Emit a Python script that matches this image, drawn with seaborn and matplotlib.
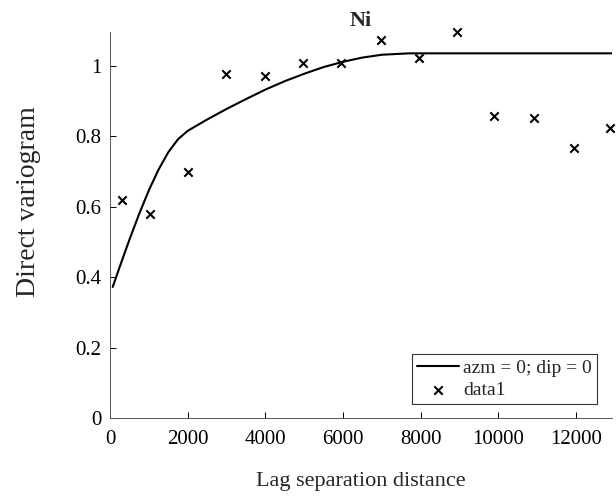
import matplotlib
matplotlib.use("Agg")
import matplotlib.pyplot as plt
import seaborn as sns
import pandas as pd

# Experimental variogram points (data1)
lag_x = [310, 1030, 2010, 3000, 3990, 4980, 5960, 6970, 7950, 8950, 9900, 10920, 11940, 12890]
gamma_exp = [0.620, 0.578, 0.699, 0.975, 0.970, 1.007, 1.008, 1.074, 1.021, 1.096, 0.857, 0.852, 0.766, 0.823]

# Fitted model curve (azm = 0; dip = 0)
model_x = [70, 250, 500, 750, 1000, 1250, 1500, 1750, 2000, 2500, 3000, 3500, 4000,
           4500, 5000, 5500, 6000, 6500, 7000, 7700, 12930]
model_y = [0.372, 0.429, 0.506, 0.579, 0.646, 0.705, 0.754, 0.791, 0.815, 0.847, 0.877,
           0.905, 0.932, 0.956, 0.977, 0.996, 1.011, 1.023, 1.031, 1.035, 1.035]

x_ticks = [0, 2000, 4000, 6000, 8000, 10000, 12000]
y_ticks = [0, 0.2, 0.4, 0.6, 0.8, 1.0]
y_tick_labels = ["0", "0.2", "0.4", "0.6", "0.8", "1"]

sns.set_style("ticks")
plt.rcParams['font.family'] = ['Liberation Serif', 'DejaVu Serif']

fig = plt.figure(figsize=(6.16, 4.99), dpi=100)
ax = fig.add_axes([110/616, (499-418)/499, (612-110)/616, (418-31.5)/499])

df_model = pd.DataFrame({"x": model_x, "y": model_y})
df_exp = pd.DataFrame({"x": lag_x, "y": gamma_exp})

sns.lineplot(data=df_model, x="x", y="y", ax=ax, color="black", linewidth=1.5,
             label="azm = 0; dip = 0")
sns.scatterplot(data=df_exp, x="x", y="y", ax=ax, marker="x", color="black", s=36,
                linewidth=1.5, label="data1", clip_on=False)

ax.set_xlim(0, 12930)
ax.set_ylim(0, 1.097)
ax.set_xticks(x_ticks)
ax.set_xticklabels([str(v) for v in x_ticks])
ax.set_yticks(y_ticks)
ax.set_yticklabels(y_tick_labels)
ax.tick_params(direction="in", length=4, width=0.7, labelsize=15, colors="black")
ax.tick_params(axis="x", pad=9)
ax.tick_params(axis="y", pad=6)

for side in ["top", "right"]:
    ax.spines[side].set_visible(False)
for side in ["left", "bottom"]:
    ax.spines[side].set_linewidth(0.7)
    ax.spines[side].set_color("#555555")

ax.set_xlabel("Lag separation distance", fontsize=16, labelpad=16)
ax.set_ylabel("Direct variogram", fontsize=20)
ax.yaxis.set_label_coords((41 - 110) / 502, (418 - 202) / 386.5)
ax.set_title("Ni", fontsize=16, fontweight="bold", pad=1)

leg = ax.legend(loc="lower right", bbox_to_anchor=((597-110)/502, (418-404)/386.5),
                borderaxespad=0, fontsize=14, frameon=True, fancybox=False,
                edgecolor="black", handlelength=2.2, borderpad=0.25,
                labelspacing=0.25, handletextpad=0.2)
leg.get_frame().set_linewidth(0.8)

fig.savefig("out.png", dpi=100)
